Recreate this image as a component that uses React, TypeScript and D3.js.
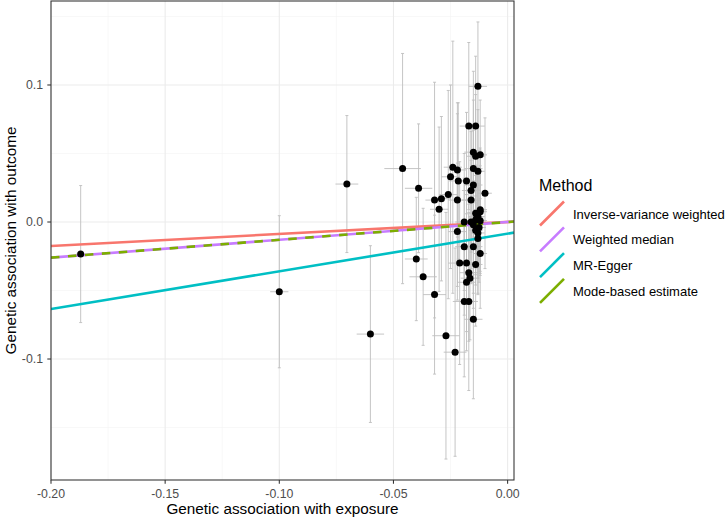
import React from "react";
import * as d3 from "d3";

// SNP effects on exposure (x) and outcome (y), with their standard errors
const bx = [
  -0.187, -0.1, -0.0704, -0.0601, -0.046, -0.039, -0.04, -0.037, -0.032, -0.029,
  -0.026, -0.03, -0.032, -0.027, -0.023, -0.024, -0.022, -0.025, -0.0216, -0.018,
  -0.022, -0.017, -0.014, -0.013, -0.015, -0.012, -0.014, -0.015, -0.013, -0.015,
  -0.016, -0.0099, -0.016, -0.014, -0.012, -0.019, -0.016, -0.014, -0.022, -0.014,
  -0.013, -0.019, -0.015, -0.012, -0.021, -0.018, -0.014, -0.017, -0.0165, -0.018,
  -0.019, -0.017, -0.015, -0.013, -0.012, -0.015, -0.012, -0.013, -0.0135, -0.0125,
];
const by = [
  -0.0234, -0.0509, 0.0277, -0.0818, 0.039, 0.0246, -0.027, -0.04, 0.016, 0.017,
  0.02, 0.0093, -0.053, -0.083, -0.095, 0.04, 0.038, 0.033, 0.03, 0.03,
  0.016, 0.07, 0.07, 0.099, 0.051, 0.049, 0.048, 0.039, 0.037, 0.027,
  0.023, 0.021, 0.016, 0.0064, 0.0075, 0.0, 0.0, 0.0015, -0.007, -0.006,
  -0.008, -0.018, -0.018, -0.023, -0.03, -0.03, -0.031, -0.037, -0.041, -0.044,
  -0.058, -0.058, -0.071, 0.004, 0.001, -0.002, 0.009, -0.012, 0.003, -0.004,
];
const sex = [
  0.002, 0.004, 0.005, 0.006, 0.008, 0.006, 0.005, 0.006, 0.004, 0.004,
  0.004, 0.004, 0.005, 0.006, 0.005, 0.004, 0.004, 0.004, 0.004, 0.004,
  0.004, 0.004, 0.004, 0.004, 0.004, 0.003, 0.004, 0.004, 0.003, 0.004,
  0.004, 0.003, 0.004, 0.003, 0.003, 0.004, 0.004, 0.003, 0.004, 0.003,
  0.003, 0.004, 0.004, 0.003, 0.005, 0.004, 0.003, 0.004, 0.004, 0.004,
  0.005, 0.004, 0.004, 0.003, 0.003, 0.003, 0.003, 0.003, 0.003, 0.003,
];
const sey = [
  0.05, 0.0555, 0.05, 0.0645, 0.084, 0.047, 0.045, 0.05, 0.086, 0.06,
  0.076, 0.06, 0.058, 0.09, 0.076, 0.092, 0.049, 0.067, 0.057, 0.05,
  0.063, 0.061, 0.051, 0.047, 0.059, 0.04, 0.045, 0.05, 0.045, 0.04,
  0.045, 0.055, 0.05, 0.04, 0.045, 0.05, 0.045, 0.04, 0.05, 0.04,
  0.045, 0.05, 0.045, 0.04, 0.074, 0.05, 0.045, 0.05, 0.045, 0.05,
  0.055, 0.065, 0.058, 0.045, 0.04, 0.05, 0.045, 0.04, 0.035, 0.04,
];

// fitted MR lines
const methods = ["Inverse-variance weighted", "Weighted median", "MR-Egger", "Mode-based estimate"];
const colors = ["#F8766D", "#C77CFF", "#00BFC4", "#7CAE00"];
const intercepts = [0, 0, -0.0085, 0];
const slopes = [0.0875, 0.13, 0.275, 0.13];

const xTicks = [-0.2, -0.15, -0.1, -0.05, 0];
const xMinor = [-0.175, -0.125, -0.075, -0.025];
const yTicks = [-0.1, 0, 0.1];
const yMinor = [-0.15, -0.05, 0.05, 0.15];

const font = "'Liberation Sans', Arial, sans-serif";

export default function App() {
  const left = 51, right = 514, top = 1, bottom = 480;
  const x = d3.scaleLinear().domain([-0.2, 0.0028]).range([left, right]);
  const y = d3.scaleLinear().domain([-0.1883, 0.1613]).range([bottom, top]);
  const [x0, x1] = x.domain();

  const pts = bx.map((v, i) => ({ bx: v, by: by[i], sx: sex[i], sy: sey[i] }));

  return (
    <svg
      width={725}
      height={520}
      style={{ position: "absolute", left: 0, top: 0, background: "#fff" }}
      fontFamily={font}
    >
      <defs>
        <clipPath id="panel">
          <rect x={left} y={top} width={right - left} height={bottom - top} />
        </clipPath>
      </defs>
      <rect x={left} y={top} width={right - left} height={bottom - top} fill="#fff" />
      {/* grid */}
      {xMinor.map((t) => (
        <line key={"xm" + t} x1={x(t)} x2={x(t)} y1={top} y2={bottom} stroke="#F3F3F3" strokeWidth={0.55} />
      ))}
      {yMinor.map((t) => (
        <line key={"ym" + t} x1={left} x2={right} y1={y(t)} y2={y(t)} stroke="#F3F3F3" strokeWidth={0.55} />
      ))}
      {xTicks.map((t) => (
        <line key={"xg" + t} x1={x(t)} x2={x(t)} y1={top} y2={bottom} stroke="#EBEBEB" strokeWidth={1.07} />
      ))}
      {yTicks.map((t) => (
        <line key={"yg" + t} x1={left} x2={right} y1={y(t)} y2={y(t)} stroke="#EBEBEB" strokeWidth={1.07} />
      ))}

      <g clipPath="url(#panel)">
        {/* error bars */}
        {pts.map((p, i) => (
          <g key={"e" + i} stroke="#BEBEBE" strokeWidth={0.9} fill="none">
            <line x1={x(p.bx)} x2={x(p.bx)} y1={y(p.by - p.sy)} y2={y(p.by + p.sy)} />
            <line x1={x(p.bx) - 1.5} x2={x(p.bx) + 1.5} y1={y(p.by - p.sy)} y2={y(p.by - p.sy)} />
            <line x1={x(p.bx) - 1.5} x2={x(p.bx) + 1.5} y1={y(p.by + p.sy)} y2={y(p.by + p.sy)} />
            <line x1={x(p.bx - p.sx)} x2={x(p.bx + p.sx)} y1={y(p.by)} y2={y(p.by)} />
          </g>
        ))}
        {/* MR lines */}
        {methods.map((m, i) => (
          <line
            key={m}
            x1={x(x0)}
            x2={x(x1)}
            y1={y(intercepts[i] + slopes[i] * x0)}
            y2={y(intercepts[i] + slopes[i] * x1)}
            stroke={colors[i]}
            strokeWidth={2.6}
            strokeDasharray={i === 3 ? "8.5,8.5" : undefined}
          />
        ))}
        {pts.map((p, i) => (
          <circle key={"p" + i} cx={x(p.bx)} cy={y(p.by)} r={3.5} fill="#000" />
        ))}
      </g>
      <rect x={left} y={top} width={right - left} height={bottom - top} fill="none" stroke="#333333" strokeWidth={1.07} />

      {/* x axis */}
      {xTicks.map((t) => (
        <g key={"xt" + t}>
          <line x1={x(t)} x2={x(t)} y1={bottom} y2={bottom + 3.7} stroke="#333333" strokeWidth={1.07} />
          <text x={x(t)} y={498} textAnchor="middle" fontSize={12.3} fill="#4D4D4D">
            {d3.format(".2f")(t).replace("−", "-")}
          </text>
        </g>
      ))}
      {/* y axis */}
      {yTicks.map((t) => (
        <g key={"yt" + t}>
          <line x1={left - 3.7} x2={left} y1={y(t)} y2={y(t)} stroke="#333333" strokeWidth={1.07} />
          <text x={left - 8} y={y(t) + 4.4} textAnchor="end" fontSize={12.3} fill="#4D4D4D">
            {d3.format(".1f")(t).replace("−", "-")}
          </text>
        </g>
      ))}
      <text x={(left + right) / 2} y={514} textAnchor="middle" fontSize={15.3} fill="#000">
        Genetic association with exposure
      </text>
      <text
        transform={`translate(16,${(top + bottom) / 2}) rotate(-90)`}
        textAnchor="middle"
        fontSize={15.3}
        fill="#000"
      >
        Genetic association with outcome
      </text>

      {/* legend */}
      <text x={539} y={191} fontSize={16} fill="#000">Method</text>
      {methods.map((m, i) => (
        <g key={"lg" + m} transform={`translate(539,${200.5 + i * 25.8})`}>
          <line x1={1} x2={25} y1={25} y2={1} stroke={colors[i]} strokeWidth={2.6} />
          <text x={34} y={18} fontSize={13} fill="#000">{m}</text>
        </g>
      ))}
    </svg>
  );
}
